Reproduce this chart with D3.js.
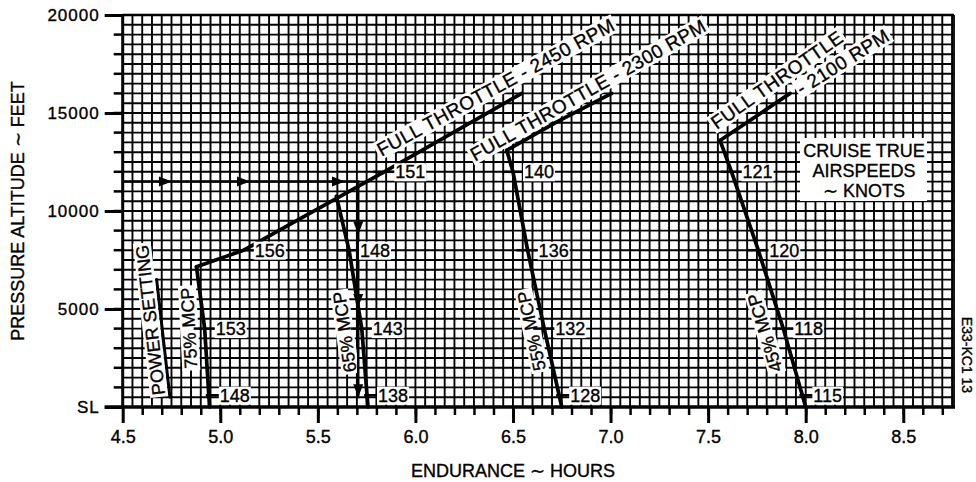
<!DOCTYPE html>
<meta charset="utf-8">
<style>
body { margin: 0; background: #fff; }
text { font-family: "Liberation Sans", Arial, sans-serif; fill: #000; stroke: #000; stroke-width: 0.35px; }
.grid line { stroke: #000; stroke-width: 1.9px; }
.curve { fill: none; stroke: #000; stroke-width: 3.7px; stroke-linejoin: round; stroke-linecap: round; }
.guide { fill: none; stroke: #000; stroke-width: 2.5px; }
.spd line { stroke: #000; stroke-width: 2.5px; }
.axis line, .axis path { stroke: #000; }
</style>
<svg width="976" height="482"></svg>
<script src="https://d3js.org/d3.v7.min.js"></script>
<script>

// axis ticks
var hourTicks = [4.5, 5.0, 5.5, 6.0, 6.5, 7.0, 7.5, 8.0, 8.5];
var altTicks = [0, 5000, 10000, 15000, 20000];
var altTickLabels = ["SL", "5000", "10000", "15000", "20000"];

// curves (endurance hours, pressure altitude ft)
var mcp75 = [[4.878, 7150], [4.92, 4000], [4.945, 0]];
var mcp65 = [[5.595, 10750], [5.66, 8000], [5.725, 4000], [5.757, 0]];
var mcp55 = [[6.468, 13100], [6.50, 12000], [6.575, 8000], [6.66, 4000], [6.75, 0]];
var mcp45 = [[7.561, 13600], [7.62, 12000], [7.757, 8000], [7.885, 4000], [8.0, 0]];
var ft2450 = [[4.878, 7150], [5.12, 8000], [5.84, 12000], [6.545, 16000]];
var ft2300 = [[6.468, 13100], [6.725, 14550], [7.006, 16000]];
var ft2100 = [[7.561, 13600], [7.92, 16000]];
var powerPointer = [[4.674, 6500], [4.742, 500]];

// example path with arrows
var examplePath = [[4.5, 11500], [5.707, 11500], [5.707, 450]];
var exampleArrows = [[4.742, 11500, 0], [5.142, 11500, 0], [5.629, 11500, 0],
                     [5.707, 8900, 90], [5.707, 5200, 90], [5.707, 600, 90]];

// cruise true airspeeds (knots) along curves
var speedCurve = ["mcp75", "mcp75", "ft2450", "ft2450", "mcp65", "mcp65", "mcp65",
                  "mcp55", "mcp55", "mcp55", "mcp55", "mcp45", "mcp45", "mcp45", "mcp45"];
var speedAlt = [4000, 600, 8000, 12000, 8000, 4000, 600,
                12000, 8000, 4000, 600, 12000, 8000, 4000, 600];
var speedKts = [153, 148, 156, 151, 148, 143, 138, 140, 136, 132, 128, 121, 120, 118, 115];

// curve labels: text, hours, altitude, angle
var curveLabels = [
  ["FULL THROTTLE - 2450 RPM", 5.826, 12770, -28.5],
  ["FULL THROTTLE - 2300 RPM", 6.306, 12515, -29.5],
  ["FULL THROTTLE", 7.544, 14130, -35],
  ["- 2100 RPM", 7.979, 15900, -32]
];
// centred vertical labels
var mcpLabels = [
  ["POWER SETTING", 4.64, 4440, -96.5],
  ["75% MCP", 4.838, 4030, -93],
  ["65% MCP", 5.636, 3830, -98],
  ["55% MCP", 6.594, 3880, -102],
  ["45% MCP", 7.79, 3780, -107]
];

var curves = {mcp75: mcp75, mcp65: mcp65, mcp55: mcp55, mcp45: mcp45,
              ft2450: ft2450, ft2300: ft2300, ft2100: ft2100};

var svg = d3.select("svg");

var x = d3.scaleLinear().domain([4.5, 8.76]).range([122.7, 954]);
var y = d3.scaleLinear().domain([0, 20000]).range([407, 15]);

var line = d3.line().x(function(d) { return x(d[0]); }).y(function(d) { return y(d[1]); });

// grid
var grid = svg.append("g").attr("class", "grid");
grid.selectAll(".v").data(d3.range(1, 86)).enter().append("line")
    .attr("x1", function(i) { return x(4.5 + i * 0.05); })
    .attr("x2", function(i) { return x(4.5 + i * 0.05); })
    .attr("y1", y(20000)).attr("y2", y(0));
grid.selectAll(".h").data(d3.range(1, 40)).enter().append("line")
    .attr("y1", function(i) { return y(i * 500); })
    .attr("y2", function(i) { return y(i * 500); })
    .attr("x1", x(4.5)).attr("x2", x(8.76));

// frame
svg.append("line").attr("x1", x(4.5)).attr("x2", x(8.76)).attr("y1", y(20000)).attr("y2", y(20000))
    .attr("stroke", "#000").attr("stroke-width", 2.5);
svg.append("line").attr("x1", x(8.76)).attr("x2", x(8.76)).attr("y1", y(20000)).attr("y2", y(0))
    .attr("stroke", "#000").attr("stroke-width", 1.8);

// axes
function styleAxis(g, size) {
  g.selectAll("text").attr("font-family", "Liberation Sans, Arial, sans-serif")
    .attr("font-size", size).attr("fill", "#000");
  g.select(".domain").remove();
}

var xMinor = svg.append("g").attr("class", "axis").attr("transform", "translate(0," + y(0) + ")")
    .call(d3.axisBottom(x).tickValues(d3.range(46, 88).map(function(i) { return i / 10; }))
      .tickSize(8).tickFormat(""));
xMinor.selectAll("line").attr("stroke-width", 2.5);
styleAxis(xMinor, 18);
var xMajor = svg.append("g").attr("class", "axis").attr("transform", "translate(0," + y(0) + ")")
    .call(d3.axisBottom(x).tickValues(hourTicks).tickSize(16).tickPadding(7).tickFormat(d3.format(".1f")));
xMajor.selectAll("line").attr("stroke-width", 3);
styleAxis(xMajor, 18);

var yMinor = svg.append("g").attr("class", "axis").attr("transform", "translate(" + x(4.5) + ",0)")
    .call(d3.axisLeft(y).tickValues(d3.range(1, 20)).tickSize(9).tickFormat(""));
yMinor.selectAll(".tick").attr("transform", function(d) { return "translate(0," + y(d * 1000) + ")"; });
yMinor.selectAll("line").attr("stroke-width", 2.5);
styleAxis(yMinor, 17);
var yMajor = svg.append("g").attr("class", "axis").attr("transform", "translate(" + x(4.5) + ",0)")
    .call(d3.axisLeft(y).tickValues(altTicks).tickSize(18).tickPadding(5)
      .tickFormat(function(d, i) { return altTickLabels[i]; }));
yMajor.selectAll("line").attr("stroke-width", 3);
styleAxis(yMajor, 17);
yMajor.selectAll("text").attr("letter-spacing", "1px");

svg.append("line").attr("x1", x(4.5)).attr("x2", x(4.5)).attr("y1", y(20000) - 1).attr("y2", y(0))
    .attr("stroke", "#000").attr("stroke-width", 3);
svg.append("line").attr("x1", x(4.5) - 18).attr("x2", x(8.76) + 1).attr("y1", y(0)).attr("y2", y(0))
    .attr("stroke", "#000").attr("stroke-width", 3.5);

// axis titles
svg.append("text").attr("x", x(6.5)).attr("y", 477).attr("text-anchor", "middle")
    .attr("font-size", 18).text("ENDURANCE \u223C HOURS");
svg.append("text").attr("transform", "translate(24,211) rotate(-90)").attr("text-anchor", "middle")
    .attr("font-size", 18).text("PRESSURE ALTITUDE \u223C FEET");
svg.append("text").attr("transform", "translate(967,355) rotate(90)").attr("text-anchor", "middle")
    .attr("dominant-baseline", "central").attr("font-size", 14).text("E33-KC1 13");

// knock-out helper
function knockout(g, pad) {
  var t = g.select("text").node().getBBox();
  g.insert("rect", "text").attr("x", t.x - pad).attr("y", t.y + 1).attr("width", t.width + 2 * pad)
    .attr("height", t.height - 2).attr("fill", "#fff");
}

// curve labels
curveLabels.forEach(function(c) {
  var g = svg.append("g").attr("transform", "translate(" + x(c[1]) + "," + y(c[2]) + ") rotate(" + c[3] + ")");
  g.append("text").attr("font-size", 19).attr("letter-spacing", "0.4px").text(c[0]);
  knockout(g, 2);
});
mcpLabels.forEach(function(c) {
  var g = svg.append("g").attr("transform", "translate(" + x(c[1]) + "," + y(c[2]) + ") rotate(" + c[3] + ")");
  g.append("text").attr("font-size", 18).attr("text-anchor", "middle").attr("dy", "0.36em").text(c[0]);
  knockout(g, 2);
});

// cruise airspeed box
var box = svg.append("g");
box.append("rect").attr("x", 800).attr("y", 138).attr("width", 127).attr("height", 63).attr("fill", "#fff");
["CRUISE TRUE", "AIRSPEEDS", "\u223C KNOTS"].forEach(function(s, i) {
  box.append("text").attr("x", 864).attr("y", 157 + i * 20).attr("text-anchor", "middle")
    .attr("font-size", 18).text(s);
});

// curves
Object.keys(curves).forEach(function(k) {
  svg.append("path").attr("class", "curve").attr("d", line(curves[k]));
});
svg.append("path").attr("class", "curve").style("stroke-width", "3px").attr("d", line(powerPointer));

// example guide
svg.append("path").attr("class", "guide").attr("d", line(examplePath));
svg.selectAll(".arrow").data(exampleArrows).enter().append("path")
    .attr("d", "M2,0 L-11,-5 L-11,5 Z")
    .attr("transform", function(d) { return "translate(" + x(d[0]) + "," + y(d[1]) + ") rotate(" + d[2] + ")"; });

// airspeed ticks and labels
function hoursAt(pts, alt) {
  for (var i = 0; i < pts.length - 1; i++) {
    var a0 = pts[i][1], a1 = pts[i + 1][1];
    if ((alt - a0) * (alt - a1) <= 0) {
      var t = (alt - a0) / (a1 - a0);
      return pts[i][0] + t * (pts[i + 1][0] - pts[i][0]);
    }
  }
  return pts[pts.length - 1][0];
}
speedKts.forEach(function(kt, i) {
  var px = x(hoursAt(curves[speedCurve[i]], speedAlt[i])), py = y(speedAlt[i]);
  var g = svg.append("g").attr("class", "spd").attr("transform", "translate(" + px + "," + py + ")");
  g.append("text").attr("x", 11).attr("dy", "0.36em").attr("font-size", 18).text(kt);
  knockout(g, 1);
  g.append("line").attr("x1", speedAlt[i] < 1000 ? -3 : -11).attr("x2", 10).attr("y1", 0).attr("y2", 0);
});

</script>
